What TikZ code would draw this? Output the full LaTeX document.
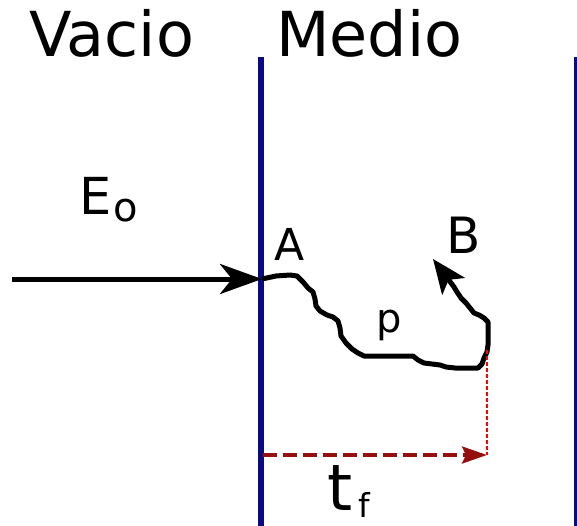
\documentclass[tikz,border=0pt]{standalone}
\usepackage{fontspec}
\setmainfont{DejaVu Sans}
\usetikzlibrary{arrows.meta}
\definecolor{navyb}{RGB}{10,10,130}
\definecolor{dred}{RGB}{150,15,15}
\begin{document}
\begin{tikzpicture}[x=1pt,y=-1pt,
  lbl/.style={inner sep=0pt,anchor=base west},
  wall/.style={navyb,line width=6pt},
  wall2/.style={navyb,line width=3pt},
  beam/.style={line width=5pt,-{Stealth[length=42pt,width=30pt,inset=12pt]}},
  walk/.style={line width=5pt,line join=round,-{Stealth[length=34pt,width=28pt,inset=8pt]}},
  tline/.style={dred,line width=3.5pt,dash pattern=on 14pt off 6pt,-{Stealth[length=25pt,width=17pt,inset=4pt]}},
  guide/.style={red,line width=1.3pt,dash pattern=on 4pt off 2pt}]
\useasboundingbox (0,0) rectangle (577,526);
% walls
\coordinate (wt) at (261,57);
\coordinate (wb) at (261,526);
\coordinate (rt) at (575,57);
\coordinate (rb) at (575,526);
\draw[wall] (wt) -- (wb);
\draw[wall2] (rt) -- (rb);
% titles
\node[lbl,font=\fontsize{62}{66}\selectfont] (vac) at (29,57) {Vacio};
\node[lbl,font=\fontsize{62}{66}\selectfont] (med) at (276,57) {Medio};
% incident beam
\coordinate (src) at (12,279);
\coordinate (A0) at (262,279);
\draw[beam] (src) -- (A0);
\node[lbl,font=\fontsize{51}{54}\selectfont] (E) at (79,215) {E\hspace{2pt}\raisebox{-6pt}{\fontsize{40}{42}\selectfont o}};
% labels
\node[lbl,font=\fontsize{44}{46}\selectfont] (A) at (274,260) {A};
\node[lbl,font=\fontsize{50}{52}\selectfont] (B) at (446,253) {B};
\node[lbl,font=\fontsize{40}{44}\selectfont] (p) at (376,332) {p};
% random walk
\coordinate (Bt) at (433,259);
\draw[walk] (A0) -- (276,276) -- (290,275) -- (297,276) -- (303,282) -- (308,288) -- (313,292) -- (315,299)
  -- (316,306) -- (320,311) -- (327,315) -- (333,317) -- (338,321) -- (340,328) -- (341,336)
  -- (346,343) -- (352,349) -- (358,353) -- (364,356) -- (380,356) -- (398,356) -- (413,356)
  -- (418,360) -- (424,363) -- (432,364) -- (440,365) -- (446,367) -- (455,368) -- (466,368)
  -- (478,368) -- (482,364) -- (484,358) -- (487,352) -- (488,345) -- (488,335) -- (488,322)
  -- (484,318) -- (479,315) -- (474,313) -- (470,308) -- (466,303) -- (461,298) -- (457,292)
  -- (454,287) -- (Bt);
% t_f
\coordinate (gt) at (487,350);
\coordinate (gb) at (487,455);
\coordinate (ts) at (263,455);
\draw[guide] (gt) -- (gb);
\draw[tline] (ts) -- (gb);
\node[lbl,font=\fontsize{64}{66}\selectfont] (tf) at (327,510) {t\hspace{6pt}\raisebox{-7pt}{\fontsize{33}{35}\selectfont f}};
\end{tikzpicture}
\end{document}
